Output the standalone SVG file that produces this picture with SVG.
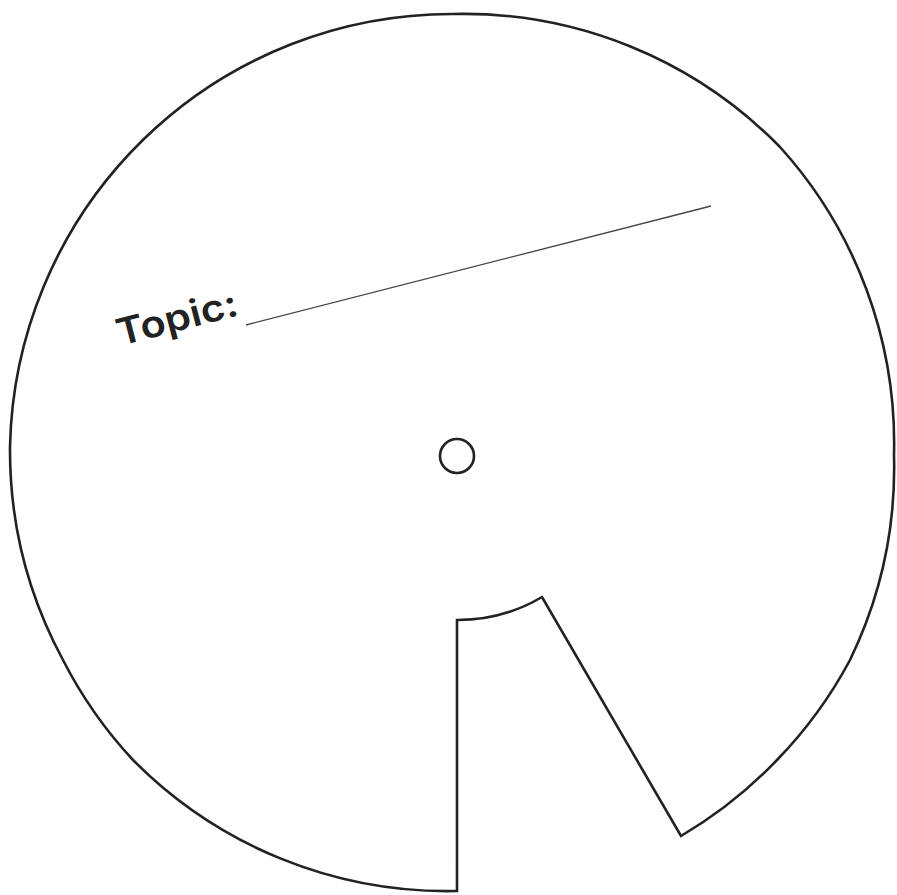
<svg xmlns="http://www.w3.org/2000/svg" width="897" height="895" viewBox="0 0 897 895">
<style>
.outline{fill:#fff;stroke:#222;stroke-width:2.6;stroke-linejoin:miter}
.hole{fill:none;stroke:#222;stroke-width:2.6}
.rule{stroke:#444;stroke-width:1.3}
.label{font-family:Inter,"Open Sans",Lato,sans-serif;font-weight:600;font-size:37px;fill:#222}
</style>
<rect width="897" height="895" fill="#fff"/>
<g id="wheel">
<path class="outline" d="M457,891 L457,620 A165,165 0 0 0 542,597 L681,836 A442,442 0 0 0 777,760 A442,442 0 0 0 850,660 A442,442 0 0 0 894,455 A442,442 0 0 0 780,147 A442,442 0 0 0 452,14 A442,442 0 0 0 10,447 A442,442 0 0 0 63,660 A442,442 0 0 0 133,760 A442,442 0 0 0 457,891 Z"/>
</g>
<g id="hub">
<circle class="hole" cx="457" cy="456" r="17"/>
</g>
<g id="topic">
<text class="label" x="120" y="346" textLength="124" lengthAdjust="spacingAndGlyphs" transform="rotate(-14.5 120 346)">Topic:</text>
<line class="rule" x1="246" y1="325" x2="711" y2="206"/>
</g>
</svg>
